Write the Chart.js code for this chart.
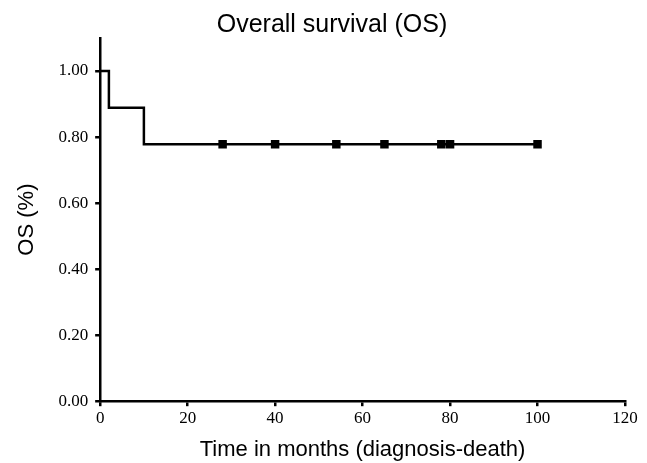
<!DOCTYPE html>
<html>
<head>
<meta charset="utf-8">
<script src="https://cdn.jsdelivr.net/npm/chart.js@4"></script>
<style>
  html, body { margin: 0; padding: 0; background: #fff; }
</style>
</head>
<body>
<canvas id="chart" width="647" height="463"></canvas>
<script>
// survival curve (step points) and censored observations
const survTimes = [0, 2, 10, 100]
const survValues = [1.0, 0.889, 0.778, 0.778]
const censorTimes = [28, 40, 54, 65, 78, 80, 100]
const censorValues = [0.778, 0.778, 0.778, 0.778, 0.778, 0.778, 0.778]
const chartTitle = "Overall survival (OS)"

const serif = "'Liberation Serif', 'Times New Roman', serif"
const sans = "'Liberation Sans', Arial, sans-serif"

// title sits a bit right of the canvas centre in the original, so draw it by hand
const titlePlugin = {
    id: "ownTitle",
    afterDraw(chart) {
        const ctx = chart.ctx
        ctx.save()
        ctx.font = `25px ${sans}`
        ctx.fillStyle = "#000"
        ctx.textAlign = "center"
        ctx.textBaseline = "middle"
        ctx.fillText(chartTitle, 332, 25)
        ctx.restore()
    }
}

new Chart(document.getElementById("chart"), {
    data: {
        datasets: [
            {
                type: "line",
                data: survTimes.map((t, i) => ({ x: t, y: survValues[i] })),
                stepped: true,
                borderColor: "#000",
                borderWidth: 2.5,
                pointRadius: 0,
                fill: false
            },
            {
                type: "scatter",
                data: censorTimes.map((t, i) => ({ x: t, y: censorValues[i] })),
                pointStyle: "rect",
                pointRadius: 6,
                backgroundColor: "#000",
                borderColor: "#000",
                borderWidth: 0
            }
        ]
    },
    plugins: [titlePlugin],
    options: {
        responsive: false,
        animation: false,
        layout: { padding: { left: 14, right: 22, top: 38, bottom: 0 } },
        plugins: {
            legend: { display: false },
            tooltip: { enabled: false },
            title: { display: false }
        },
        scales: {
            x: {
                type: "linear",
                min: 0,
                max: 120,
                ticks: { stepSize: 20, color: "#000", font: { family: serif, size: 17 }, padding: 2 },
                grid: { display: true, drawOnChartArea: false, drawTicks: true, tickLength: 5, color: "#000", lineWidth: 2.5 },
                border: { display: true, color: "#000", width: 2.5 },
                title: {
                    display: true,
                    text: "Time in months (diagnosis-death)",
                    color: "#000",
                    font: { family: sans, size: 22 },
                    padding: { top: 6, bottom: 0 }
                }
            },
            y: {
                min: 0,
                max: 1.1,
                afterBuildTicks: scale => {
                    scale.ticks = scale.ticks.filter(t => t.value <= 1.0001)
                },
                ticks: {
                    stepSize: 0.2,
                    color: "#000",
                    font: { family: serif, size: 17 },
                    padding: 7,
                    callback: v => v.toFixed(2)
                },
                grid: { display: true, drawOnChartArea: false, drawTicks: true, tickLength: 5, color: "#000", lineWidth: 2.5 },
                border: { display: true, color: "#000", width: 2.5 },
                title: {
                    display: true,
                    text: "OS (%)",
                    color: "#000",
                    font: { family: sans, size: 22 },
                    padding: { top: 0, bottom: 11 }
                }
            }
        }
    }
})
</script>
</body>
</html>
